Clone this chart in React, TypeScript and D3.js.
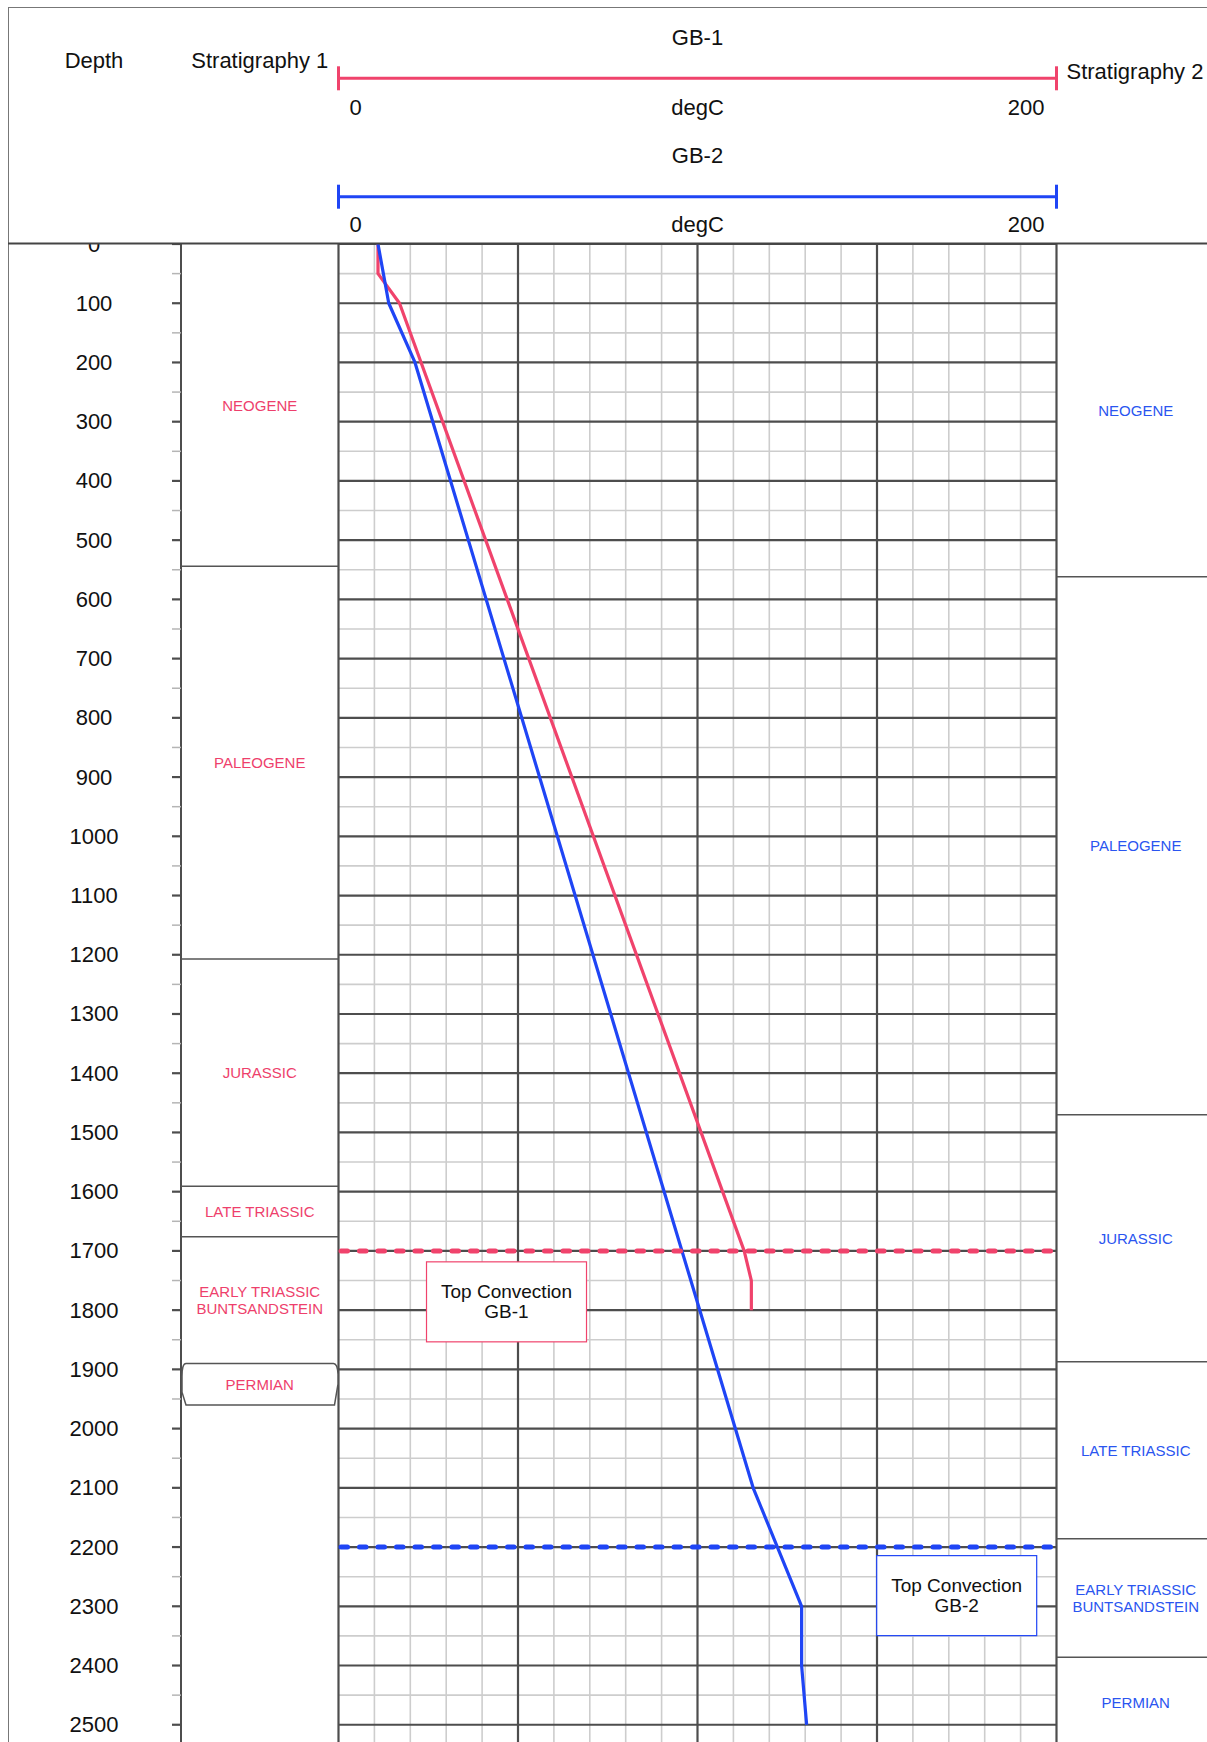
import React from "react";
import * as d3 from "d3";

const W = 1207;
const H = 1742;
const FONT = "'Liberation Sans', Arial, Helvetica, sans-serif";
const RED = "#f0436c";
const BLUE = "#1f45f5";
const RED_TXT = "#ee3f6c";
const BLUE_TXT = "#2a55f0";
const DARK = "#4d4d4d";
const LIGHT = "#cdcdcd";

// Temperature logs (depth m, temperature degC)
const gb1Depth = [0, 50, 100, 1700, 1750, 1800];
const gb1Temp = [11, 11, 17, 113, 115, 115];
const gb2Depth = [0, 100, 200, 2100, 2300, 2400, 2500];
const gb2Temp = [11, 14, 21.3, 115.5, 129, 129, 130.4];

// Depth axis
const depthLabels = [0, 100, 200, 300, 400, 500, 600, 700, 800, 900, 1000, 1100, 1200, 1300, 1400, 1500, 1600, 1700, 1800, 1900, 2000, 2100, 2200, 2300, 2400, 2500];

// Stratigraphy 1 (GB-1)
const strat1Names = ["NEOGENE", "PALEOGENE", "JURASSIC", "LATE TRIASSIC", "EARLY TRIASSIC|BUNTSANDSTEIN", "PERMIAN"];
const strat1Top = [0, 544, 1207, 1591, 1676, 1890];
const strat1Base = [544, 1207, 1591, 1676, 1890, 1960];

// Stratigraphy 2 (GB-2)
const strat2Names = ["NEOGENE", "PALEOGENE", "JURASSIC", "LATE TRIASSIC", "EARLY TRIASSIC|BUNTSANDSTEIN", "PERMIAN"];
const strat2Top = [0, 562, 1470, 1887, 2186, 2386];
const strat2Base = [562, 1470, 1887, 2186, 2386, 2540];

// Top convection markers
const convDepth = [1700, 2200];
const convLabel = ["GB-1", "GB-2"];
const convBoxTemp = [46.8, 172.2];
const convBoxDepth = [1786, 2282];

export default function App() {
  const y = d3.scaleLinear().domain([0, 2500]).range([244, 1724.75]);
  const x = d3.scaleLinear().domain([0, 200]).range([338.5, 1056.5]);
  const yEnd = y(2580);
  const depthCol = [8, 181];
  const s1 = [181, x(0)];
  const s2 = [x(200), 1215];

  const majorDepths = d3.range(0, 2600, 100);
  const minorDepths = d3.range(50, 2600, 100);
  const tempAll = d3.range(0, 201, 10);
  const tempMinor = tempAll.filter((t) => t % 50 !== 0);
  const tempMajor = tempAll.filter((t) => t % 50 === 0);

  const line = d3
    .line<[number, number]>()
    .x((d) => x(d[1]))
    .y((d) => y(d[0]));
  const gb1 = line(gb1Depth.map((d, i) => [d, gb1Temp[i]] as [number, number])) || "";
  const gb2 = line(gb2Depth.map((d, i) => [d, gb2Temp[i]] as [number, number])) || "";

  const colors = [RED, BLUE];

  const stratLabel = (name: string, cx: number, cy: number, color: string, key: string) => {
    const parts = name.split("|");
    const lh = 17;
    return (
      <text key={key} x={cx} y={cy} fill={color} fontSize={15} textAnchor="middle" fontFamily={FONT}>
        {parts.map((p, i) => (
          <tspan key={i} x={cx} y={cy + (i - (parts.length - 1) / 2) * lh} dominantBaseline="central">
            {p}
          </tspan>
        ))}
      </text>
    );
  };

  const headerAxes = [
    { title: "GB-1", titleY: 45, lineY: 78.3, labY: 115, color: RED },
    { title: "GB-2", titleY: 163, lineY: 196.7, labY: 232, color: BLUE },
  ];

  return (
    <div style={{ position: "absolute", left: 0, top: 0, width: W, height: H, overflow: "hidden", background: "#fff" }}>
      <svg width={W} height={H} style={{ display: "block" }} fontFamily={FONT}>
        <rect x={0} y={0} width={W} height={H} fill="#fff" />

        {/* plot grid */}
        {tempMinor.map((t) => (
          <line key={"vm" + t} x1={x(t)} x2={x(t)} y1={y(0)} y2={yEnd} stroke={LIGHT} strokeWidth={1.6} />
        ))}
        {minorDepths.map((d) => (
          <line key={"hm" + d} x1={x(0)} x2={x(200)} y1={y(d)} y2={y(d)} stroke={LIGHT} strokeWidth={1.6} />
        ))}
        {majorDepths.map((d) => (
          <line key={"hM" + d} x1={x(0)} x2={x(200)} y1={y(d)} y2={y(d)} stroke={DARK} strokeWidth={2.2} />
        ))}
        {tempMajor.map((t) => (
          <line key={"vM" + t} x1={x(t)} x2={x(t)} y1={y(0)} y2={yEnd} stroke={DARK} strokeWidth={2.2} />
        ))}

        {/* depth axis */}
        <line x1={depthCol[1]} x2={depthCol[1]} y1={y(0)} y2={yEnd} stroke={DARK} strokeWidth={2} />
        {minorDepths.map((d) => (
          <line key={"tm" + d} x1={depthCol[1] - 9} x2={depthCol[1]} y1={y(d)} y2={y(d)} stroke="#b5b5b5" strokeWidth={1.5} />
        ))}
        {majorDepths.map((d) => (
          <line key={"tM" + d} x1={depthCol[1] - 9} x2={depthCol[1]} y1={y(d)} y2={y(d)} stroke={DARK} strokeWidth={2.2} />
        ))}
        {depthLabels.map((d) => (
          <text key={"dl" + d} x={94} y={y(d)} fontSize={22} textAnchor="middle" dominantBaseline="central" fill="#111">
            {d}
          </text>
        ))}

        {/* stratigraphy 1 */}
        {strat1Names.map((n, i) => {
          const cx = (s1[0] + s1[1]) / 2;
          const cy = (y(strat1Top[i]) + y(strat1Base[i])) / 2;
          const isBox = n === "PERMIAN";
          const yT = y(strat1Top[i]);
          const yB = y(strat1Base[i]);
          const ym = (yT + yB) / 2;
          return (
            <g key={"s1" + i}>
              {isBox ? (
                <path
                  d={`M${s1[0] + 5},${yT} L${s1[1] - 5},${yT} Q${s1[1] - 1},${yT} ${s1[1] - 0.5},${ym - 10} L${s1[1] - 0.5},${ym} L${s1[1] - 4},${yB} L${s1[0] + 5},${yB} L${s1[0] + 1},${ym + 8} L${s1[0] + 1},${ym - 8} Q${s1[0] + 1},${yT} ${s1[0] + 5},${yT} Z`}
                  fill="#fff"
                  stroke="#555"
                  strokeWidth={1.5}
                />
              ) : (
                i > 0 && <line x1={s1[0]} x2={s1[1]} y1={yT} y2={yT} stroke="#555" strokeWidth={1.5} />
              )}
              {stratLabel(n, cx, cy, RED_TXT, "l1" + i)}
            </g>
          );
        })}

        {/* stratigraphy 2 */}
        {strat2Names.map((n, i) => {
          const cx = (s2[0] + s2[1]) / 2;
          const cy = (y(strat2Top[i]) + y(strat2Base[i])) / 2;
          const yT = y(strat2Top[i]);
          return (
            <g key={"s2" + i}>
              {i > 0 && <line x1={s2[0]} x2={s2[1]} y1={yT} y2={yT} stroke="#555" strokeWidth={1.5} />}
              {stratLabel(n, cx, cy, BLUE_TXT, "l2" + i)}
            </g>
          );
        })}

        {/* curves */}
        <path d={gb1} fill="none" stroke={RED} strokeWidth={3.2} strokeLinejoin="round" />
        <path d={gb2} fill="none" stroke={BLUE} strokeWidth={3.2} strokeLinejoin="round" />

        {/* top convection */}
        {convDepth.map((d, i) => (
          <line
            key={"cv" + i}
            x1={x(0) + 2.5}
            x2={x(200) - 2.5}
            y1={y(d)}
            y2={y(d)}
            stroke={colors[i]}
            strokeWidth={5}
            strokeDasharray="6.5 12"
            strokeLinecap="round"
          />
        ))}
        {convDepth.map((d, i) => {
          const cx = x(convBoxTemp[i]);
          const cy = y(convBoxDepth[i]);
          return (
            <g key={"cb" + i}>
              <rect x={cx - 80} y={cy - 40} width={160} height={80} fill="#fff" stroke={colors[i]} strokeWidth={1.2} />
              <text x={cx} y={cy - 4} fontSize={19} textAnchor="middle" fill="#111">
                Top Convection
              </text>
              <text x={cx} y={cy + 16.5} fontSize={19} textAnchor="middle" fill="#111">
                {convLabel[i]}
              </text>
            </g>
          );
        })}

        {/* header */}
        <rect x={0} y={0} width={W} height={y(0)} fill="#fff" />
        <line x1={8} x2={W} y1={7.5} y2={7.5} stroke="#777" strokeWidth={1} />
        <line x1={8.5} x2={8.5} y1={7} y2={H} stroke="#777" strokeWidth={1} />
        <text x={94} y={68} fontSize={22} textAnchor="middle" fill="#111">
          Depth
        </text>
        <text x={(s1[0] + s1[1]) / 2} y={68} fontSize={22} textAnchor="middle" fill="#111">
          Stratigraphy 1
        </text>
        <text x={s2[0] + 10} y={79} fontSize={22} textAnchor="start" fill="#111">
          Stratigraphy 2
        </text>
        {headerAxes.map((a, i) => (
          <g key={"ha" + i}>
            <text x={(x(0) + x(200)) / 2} y={a.titleY} fontSize={22} textAnchor="middle" fill="#111">
              {a.title}
            </text>
            <line x1={x(0)} x2={x(200)} y1={a.lineY} y2={a.lineY} stroke={a.color} strokeWidth={3} />
            <line x1={x(0)} x2={x(0)} y1={a.lineY - 12} y2={a.lineY + 12} stroke={a.color} strokeWidth={3} />
            <line x1={x(200)} x2={x(200)} y1={a.lineY - 12} y2={a.lineY + 12} stroke={a.color} strokeWidth={3} />
            <text x={x(0) + 11} y={a.labY} fontSize={22} textAnchor="start" fill="#111">
              0
            </text>
            <text x={(x(0) + x(200)) / 2} y={a.labY} fontSize={22} textAnchor="middle" fill="#111">
              degC
            </text>
            <text x={x(200) - 12} y={a.labY} fontSize={22} textAnchor="end" fill="#111">
              200
            </text>
          </g>
        ))}
        <line x1={8} x2={W} y1={y(0) - 0.5} y2={y(0) - 0.5} stroke="#444" strokeWidth={2} />
      </svg>
    </div>
  );
}
